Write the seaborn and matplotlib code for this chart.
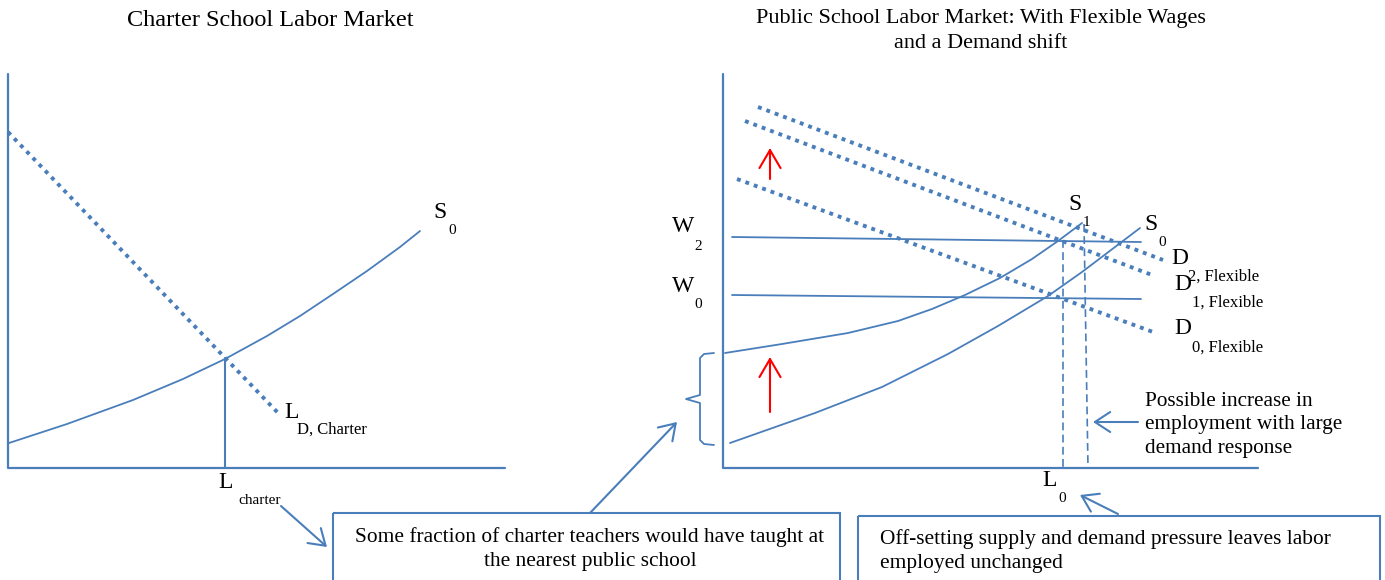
import matplotlib
matplotlib.use("Agg")
import matplotlib.pyplot as plt
import seaborn as sns
from matplotlib.patches import Rectangle

# all values are in picture units (pixels of a 1385 x 580 canvas, y grows downward)

# ---- left panel: charter school labor market ----
charter_axis_x = [8, 8, 505]
charter_axis_y = [74, 468, 468]
charter_supply_x = [9, 67, 133, 183, 225, 267, 300, 333, 367, 400, 420]
charter_supply_y = [443, 424, 400, 379, 359, 336, 316, 294, 271, 247, 231]
charter_demand_x = [8, 280]
charter_demand_y = [132, 415]
charter_emp_x = [225, 225]
charter_emp_y = [358, 468]

# ---- right panel: public school labor market ----
public_axis_x = [723, 723, 1258]
public_axis_y = [74, 468, 468]
supply0_x = [730, 815, 882, 948, 998, 1048, 1082, 1115, 1140]
supply0_y = [443, 413, 387, 354, 326, 296, 272, 247, 228]
supply1_x = [725, 782, 848, 898, 932, 965, 1000, 1032, 1058, 1082]
supply1_y = [353, 344, 333, 321, 309, 295, 278, 259, 241, 223]
demand_x = {"D2": [758, 1163], "D1": [745, 1152], "D0": [737, 1153]}
demand_y = {"D2": [107, 260], "D1": [121, 275], "D0": [179, 332]}
wage2_x, wage2_y = [732, 1141], [237, 242]
wage0_x, wage0_y = [732, 1141], [295, 299]
emp_low_x, emp_low_y = [1063, 1063], [240, 468]
emp_high_x, emp_high_y = [1084, 1088], [224, 468]
brace_x = [714, 704, 700, 700, 686, 700, 700, 704, 714]
brace_y = [353, 354, 358, 395, 399, 403, 440, 444, 445]

# shift arrows (start -> end)
red_arrows = [((770, 179), (770, 148)), ((770, 412), (770, 357))]
blue_arrows = [((1138, 422), (1093, 422)),
               ((1118, 514), (1080, 495)),
               ((590, 513), (677, 422)),
               ((281, 506), (327, 547))]

BLUE = "#4A7EBB"
DOT = (0, (1.0, 1.3))
DASH = (0, (4.7, 2.6))

sns.set_theme(style="white")
plt.rcParams["font.family"] = ["Liberation Serif", "DejaVu Serif"]
plt.rcParams["text.color"] = "black"

fig = plt.figure(figsize=(13.85, 5.8), dpi=100)
ax = fig.add_axes([0, 0, 1, 1])
ax.set_xlim(0, 1385)
ax.set_ylim(580, 0)
ax.axis("off")


def line(x, y, lw=1.3, ls="-", color=BLUE):
    sns.lineplot(x=x, y=y, ax=ax, sort=False, estimator=None,
                 color=color, linewidth=lw, linestyle=ls)


def arrow(start, end, color=BLUE, hl=0.55, hw=0.36):
    ax.annotate("", xy=end, xytext=start,
                arrowprops=dict(arrowstyle=f"->,head_length={hl},head_width={hw}",
                                color=color, lw=1.5, shrinkA=0, shrinkB=0,
                                mutation_scale=20))


def label(x, y, main, sub, sub_dx=12, sub_dy=18, size=17, sub_size=11, sub_ha="center"):
    ax.text(x, y, main, fontsize=size, ha="center", va="center")
    ax.text(x + sub_dx, y + sub_dy, sub, fontsize=sub_size, ha=sub_ha, va="center")


# titles
ax.text(270, 20, "Charter School Labor Market", fontsize=17.5, ha="center", va="center")
ax.text(981, 31, "Public School Labor Market: With Flexible Wages\nand a Demand shift",
        fontsize=16, ha="center", va="center", linespacing=1.5)

# left panel
line(charter_axis_x, charter_axis_y, lw=1.6)
line(charter_supply_x, charter_supply_y)
line(charter_demand_x, charter_demand_y, lw=2.8, ls=DOT)
line(charter_emp_x, charter_emp_y, lw=1.5)
label(440, 213, "S", "0")
label(292, 412, "L", "D, Charter", sub_dx=5, sub_size=12, sub_ha="left")
label(226, 482, "L", "charter", sub_dx=12, sub_ha="left", sub_size=11)

# right panel
line(public_axis_x, public_axis_y, lw=1.6)
for key in ["D2", "D1", "D0"]:
    line(demand_x[key], demand_y[key], lw=2.8, ls=DOT)
line(wage2_x, wage2_y)
line(wage0_x, wage0_y)
line(supply1_x, supply1_y)
line(supply0_x, supply0_y)
line(emp_low_x, emp_low_y, lw=1.2, ls=DASH)
line(emp_high_x, emp_high_y, lw=1.2, ls=DASH)
line(brace_x, brace_y, lw=1.3)

label(683, 226, "W", "2", sub_dx=15, sub_dy=20)
label(683, 287, "W", "0", sub_dx=15, sub_dy=18)
label(1075, 204, "S", "1", sub_dx=11)
label(1151, 225, "S", "0", sub_dx=11)
label(1180, 259, "D", "2, Flexible", sub_dx=8, sub_size=12, sub_ha="left")
label(1183, 284, "D", "1, Flexible", sub_dx=9, sub_dy=19, sub_size=12, sub_ha="left")
label(1183, 329, "D", "0, Flexible", sub_dx=9, sub_dy=19, sub_size=12, sub_ha="left")
label(1050, 480, "L", "0", sub_dx=12)

for start, end in red_arrows:
    arrow(start, end, color="red", hl=0.65, hw=0.38)
for start, end in blue_arrows:
    arrow(start, end)

ax.text(1145, 425, "Possible increase in\nemployment with large\ndemand response",
        fontsize=15.3, ha="left", va="center", linespacing=1.32)

# callout boxes
ax.add_patch(Rectangle((333, 513), 507, 100, fill=False, ec=BLUE, lw=1.5))
ax.add_patch(Rectangle((858, 516), 522, 100, fill=False, ec=BLUE, lw=1.5))
ax.text(590, 549, "Some fraction of charter teachers would have taught at\nthe nearest public school",
        fontsize=15.4, ha="center", va="center", multialignment="center", linespacing=1.3)
ax.text(880, 551, "Off-setting supply and demand pressure leaves labor\nemployed unchanged",
        fontsize=15.4, ha="left", va="center", linespacing=1.36)

fig.savefig("out.png", dpi=100)
